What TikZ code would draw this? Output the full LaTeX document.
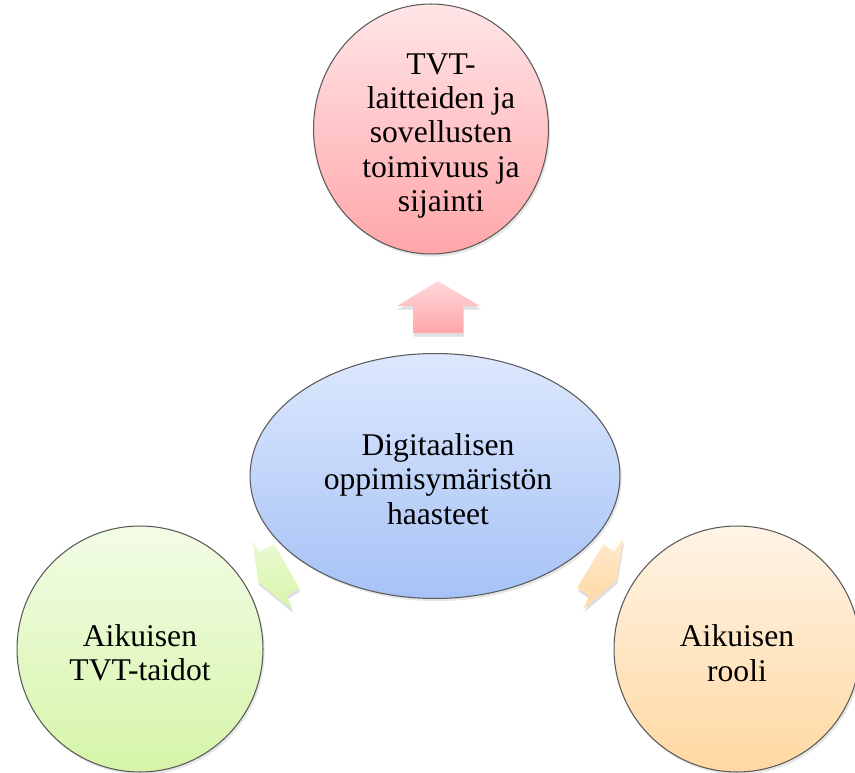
\documentclass[tikz,border=0pt]{standalone}
\usepackage{fontspec}
\setmainfont{Liberation Serif}
\usetikzlibrary{shapes.geometric}
\usetikzlibrary{shadows}
\definecolor{rosehaut}{HTML}{FFE5E7}
\definecolor{rosebas}{HTML}{FFA6A9}
\definecolor{bleuhaut}{HTML}{DDE8FD}
\definecolor{bleubas}{HTML}{A6C2F6}
\definecolor{verthaut}{HTML}{F2FCE6}
\definecolor{vertbas}{HTML}{D6F5A8}
\definecolor{orangehaut}{HTML}{FFF4E6}
\definecolor{orangebas}{HTML}{FFD8A2}
\definecolor{contour}{HTML}{5A5A5A}

\begin{document}
\begin{tikzpicture}[x=0.02cm,y=-0.02cm]
% Styles
\tikzstyle{bulle}=[ellipse,draw=contour,line width=0.6pt,drop shadow={shadow xshift=1pt,shadow yshift=-1.5pt,opacity=0.2}]
\tikzstyle{texte}=[align=center,font=\fontsize{18}{19.6}\selectfont]
\tikzstyle{fleche}=[drop shadow={shadow xshift=0.5pt,shadow yshift=-2pt,opacity=0.25}]
% Cadre
\useasboundingbox (0,0) rectangle (855,773);
% Bulles
\node[bulle,minimum width=4.7cm,minimum height=5cm,top color=rosehaut,bottom color=rosebas] (materiel) at (431,129) {};
\node[bulle,minimum width=7.4cm,minimum height=4.9cm,top color=bleuhaut,bottom color=bleubas] (centre) at (435,476) {};
\node[bulle,minimum width=4.92cm,minimum height=4.92cm,top color=verthaut,bottom color=vertbas] (taidot) at (140,649) {};
\node[bulle,minimum width=4.92cm,minimum height=4.92cm,top color=orangehaut,bottom color=orangebas] (rooli) at (737,649) {};
% Textes
\node[texte] (tmateriel) at (441,136) {TVT-\\laitteiden ja\\sovellusten\\toimivuus ja\\sijainti};
\node[texte] (tcentre) at (438,479) {Digitaalisen\\oppimisymäristön\\haasteet};
\node[texte] (ttaidot) at (140,653) {Aikuisen\\TVT-taidot};
\node[texte] (trooli) at (737,653) {Aikuisen\\rooli};
% Flèches
\shade[fleche,top color=rosehaut!80!rosebas,bottom color=rosebas] (438,281) -- (480,306) -- (463,306) -- (463,333) -- (413,333) -- (413,306) -- (397,306) -- cycle;
\shade[fleche,top color=verthaut!70!vertbas,bottom color=vertbas] (258.3,581.7) -- (252.3,540) -- (259,551.7) -- (274.3,544.3) -- (299.3,588.3) -- (286.7,595.7) -- (292.7,610) -- cycle;
\shade[fleche,top color=orangehaut!60!orangebas,bottom color=orangebas] (616.7,580) -- (623.3,539) -- (614,551.7) -- (603.3,544.3) -- (577.3,587.7) -- (589.3,596) -- (583.3,609) -- cycle;
\end{tikzpicture}
\end{document}
